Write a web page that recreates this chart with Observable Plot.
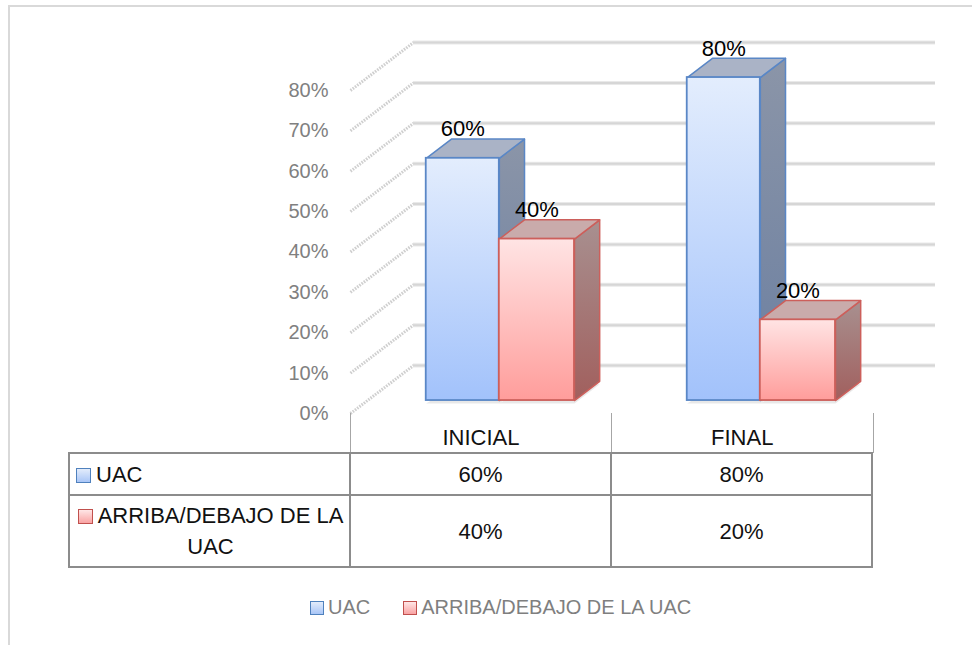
<!DOCTYPE html>
<html>
<head>
<meta charset="utf-8">
<script src="https://cdn.jsdelivr.net/npm/d3@7"></script>
<script src="https://cdn.jsdelivr.net/npm/@observablehq/plot@0.6"></script>
<style>
  html, body { margin: 0; padding: 0; background: #fff; }
  #wrap { position: relative; width: 972px; height: 645px; overflow: hidden; background: #fff;
          font-family: "Liberation Sans", Arial, sans-serif; }
  #frame { position: absolute; left: 8px; top: 5px; width: 1100px; height: 800px;
           border-left: 2px solid #d9d9d9; border-top: 2px solid #d9d9d9; box-sizing: border-box; }
  #chart { position: absolute; left: 0; top: 0; }
  .hdr { position: absolute; box-sizing: border-box; text-align: center; color: #111;
         font-size: 22px; border-left: 1.5px solid #a6a6a6; }
  .hdr.last { border-right: 1.5px solid #a6a6a6; }
  table.dt { position: absolute; border-collapse: collapse; table-layout: fixed; color: #111; font-size: 22px; }
  table.dt td { border: 2px solid #8c8c8c; padding: 0; text-align: center; vertical-align: middle; line-height: 31px; }
  table.dt td.lab { text-align: left; padding-left: 6px; }
  table.dt td.lab.c { text-align: center; padding-left: 4px; padding-right: 2px; }
  .key { display: inline-block; width: 15px; height: 15px; box-sizing: border-box; margin-right: 5px;
         vertical-align: -1px; }
  .key.b { border: 1.5px solid #4f81bd; background: linear-gradient(#e3ecfb, #a9c6f7); }
  .key.r { border: 1.5px solid #c0504d; background: linear-gradient(#ffe6e6, #f9a3a3); }
  #legend { position: absolute; top: 596px; display: flex; align-items: center; color: #7f7f7f; font-size: 20px; }
  #legend .item { display: flex; align-items: center; margin-right: 33px; }
  #legend .key { width: 14px; height: 14px; margin-right: 4px; vertical-align: 0; }
</style>
</head>
<body>
<div id="wrap">
  <div id="frame"></div>
  <div id="chart"></div>
</div>
<script>
// ---------- data ----------
const categories = ["INICIAL", "FINAL"];
const seriesNames = ["UAC", "ARRIBA/DEBAJO DE LA UAC"];
const uacValues = [60, 80];
const arribaValues = [40, 20];
const yTicks = [0, 10, 20, 30, 40, 50, 60, 70, 80];

// ---------- 3D layout constants (oblique projection) ----------
const DX = 63 / 261;          // full depth, in category units
const DY = 48 / (323 / 80);   // full depth, in percent units
const D_FRONT = 0.27, D_BACK = 0.67;
const slots = [[0.225, 0.505], [0.505, 0.793]];
const P = (x, v, d) => ({x: x + d * DX, y: v + d * DY});

const seriesValues = [uacValues, arribaValues];
const bars = [];
categories.forEach((c, i) => {
  seriesValues.forEach((vals, s) => {
    bars.push({cat: c, s, v: vals[i], x0: i + slots[s][0], x1: i + slots[s][1]});
  });
});

const style = [
  {front: "url(#gBF)", side: "url(#gBS)", top: "#aab3c6", stroke: "#5a87c6"},
  {front: "url(#gRF)", side: "url(#gRS)", top: "#c9abab", stroke: "#cc5f5b"}
];

const barMarks = [];
for (const b of bars) {
  const st = style[b.s];
  const f = D_FRONT, k = D_BACK;
  const side = [P(b.x1, 0, f), P(b.x1, b.v, f), P(b.x1, b.v, k), P(b.x1, 0, k)];
  const top = [P(b.x0, b.v, f), P(b.x1, b.v, f), P(b.x1, b.v, k), P(b.x0, b.v, k)];
  const shadow = [P(b.x0, 0, f), P(b.x1, 0, f), P(b.x1, 0, k), P(b.x0 + 0.02, 0, k)];
  barMarks.push(Plot.line(shadow, {x: "x", y: "y", curve: "linear-closed", fill: "#bdbdbd", fillOpacity: 0.35, stroke: "none", dy: 3}));
  barMarks.push(Plot.line(side, {x: "x", y: "y", curve: "linear-closed", fill: st.side, stroke: st.stroke, strokeWidth: 1.5, strokeLinejoin: "round"}));
  barMarks.push(Plot.line(top, {x: "x", y: "y", curve: "linear-closed", fill: st.top, stroke: st.stroke, strokeWidth: 1.5, strokeLinejoin: "round"}));
  barMarks.push(Plot.rect([b], {
    x1: d => P(d.x0, 0, f).x, x2: d => P(d.x1, 0, f).x,
    y1: d => P(0, 0, f).y, y2: d => P(0, d.v, f).y,
    fill: st.front, stroke: st.stroke, strokeWidth: 1.8
  }));
}

const plot = Plot.plot({
  width: 972,
  height: 645,
  marginLeft: 350, marginRight: 100, marginTop: 90, marginBottom: 232,
  style: {fontFamily: '"Liberation Sans", Arial, sans-serif', background: "transparent", overflow: "visible"},
  x: {type: "linear", domain: [0, 2], range: [350, 872], axis: null},
  y: {type: "linear", domain: [0, 80], range: [413, 90], axis: null},
  marks: [
    // side wall (textured diagonals)
    Plot.link(yTicks, {x1: () => 0, y1: t => t, x2: () => DX, y2: t => t + DY,
      stroke: "#cfcfcf", strokeWidth: 3, strokeDasharray: "1.6,1.2"}),
    // back wall gridlines
    Plot.ruleY(yTicks, {y: t => t + DY, x1: () => DX, x2: () => 2 + DX, stroke: "#e9e9e9", strokeWidth: 4}),
    Plot.ruleY(yTicks, {y: t => t + DY, x1: () => DX, x2: () => 2 + DX, stroke: "#d6d6d6", strokeWidth: 2}),
    Plot.axisY(yTicks, {tickSize: 0, tickPadding: 22, tickFormat: d => d + "%", fontSize: 20, fill: "#808080", label: null}),
    ...barMarks,
    Plot.text(bars, {
      x: d => P((d.x0 + d.x1) / 2, d.v, D_FRONT).x,
      y: d => P(0, d.v, D_FRONT).y,
      text: d => d.v + "%", dy: -29, fontSize: 22, fill: "#000"
    })
  ]
});

// gradients
const defs = document.createElementNS("http://www.w3.org/2000/svg", "defs");
defs.innerHTML = `
  <linearGradient id="gBF" x1="0" y1="0" x2="0" y2="1"><stop offset="0" stop-color="#e3edfd"/><stop offset="1" stop-color="#a2c2fb"/></linearGradient>
  <linearGradient id="gBS" x1="0" y1="0" x2="0" y2="1"><stop offset="0" stop-color="#8b95a8"/><stop offset="1" stop-color="#6b7fa1"/></linearGradient>
  <linearGradient id="gRF" x1="0" y1="0" x2="0" y2="1"><stop offset="0" stop-color="#ffe4e4"/><stop offset="1" stop-color="#ff9d9b"/></linearGradient>
  <linearGradient id="gRS" x1="0" y1="0" x2="0" y2="1"><stop offset="0" stop-color="#a89090"/><stop offset="1" stop-color="#a15f5d"/></linearGradient>`;
plot.insertBefore(defs, plot.firstChild);
document.getElementById("chart").appendChild(plot);

// ---------- data table & legend (positioned from the plot's scales) ----------
const sx = plot.scale("x"), sy = plot.scale("y");
const wrap = document.getElementById("wrap");
const colX = [0, 1, 2].map(v => sx.apply(v));
const y0 = sy.apply(0);

categories.forEach((c, i) => {
  const h = document.createElement("div");
  h.className = "hdr" + (i === categories.length - 1 ? " last" : "");
  h.style.left = colX[i] + "px";
  h.style.top = y0 + "px";
  h.style.width = (colX[i + 1] - colX[i] + (i === categories.length - 1 ? 1.5 : 0)) + "px";
  h.style.height = "40px";
  h.style.lineHeight = "50px";
  h.textContent = c;
  wrap.appendChild(h);
});

const tableLeft = 69;
const tbl = document.createElement("table");
tbl.className = "dt";
tbl.style.left = (tableLeft - 1) + "px";
tbl.style.top = (y0 + 39) + "px";
const cg = document.createElement("colgroup");
[colX[0] - tableLeft, colX[1] - colX[0], colX[2] - colX[1]].forEach(w => {
  const col = document.createElement("col"); col.style.width = w + "px"; cg.appendChild(col);
});
tbl.appendChild(cg);
tbl.style.width = (colX[2] - tableLeft + 2) + "px";
seriesNames.forEach((name, s) => {
  const tr = document.createElement("tr");
  tr.style.height = (s === 0 ? 42 : 72) + "px";
  const td = document.createElement("td");
  td.className = "lab" + (s === 1 ? " c" : "");
  td.innerHTML = `<span class="key ${s === 0 ? "b" : "r"}"></span>` + name;
  tr.appendChild(td);
  seriesValues[s].forEach(v => {
    const c = document.createElement("td");
    c.textContent = v + "%";
    tr.appendChild(c);
  });
  tbl.appendChild(tr);
});
wrap.appendChild(tbl);

const legend = document.createElement("div");
legend.id = "legend";
legend.style.left = "310px";
seriesNames.forEach((name, s) => {
  const it = document.createElement("div");
  it.className = "item";
  it.innerHTML = `<span class="key ${s === 0 ? "b" : "r"}"></span><span>${name}</span>`;
  legend.appendChild(it);
});
wrap.appendChild(legend);
</script>
</body>
</html>
